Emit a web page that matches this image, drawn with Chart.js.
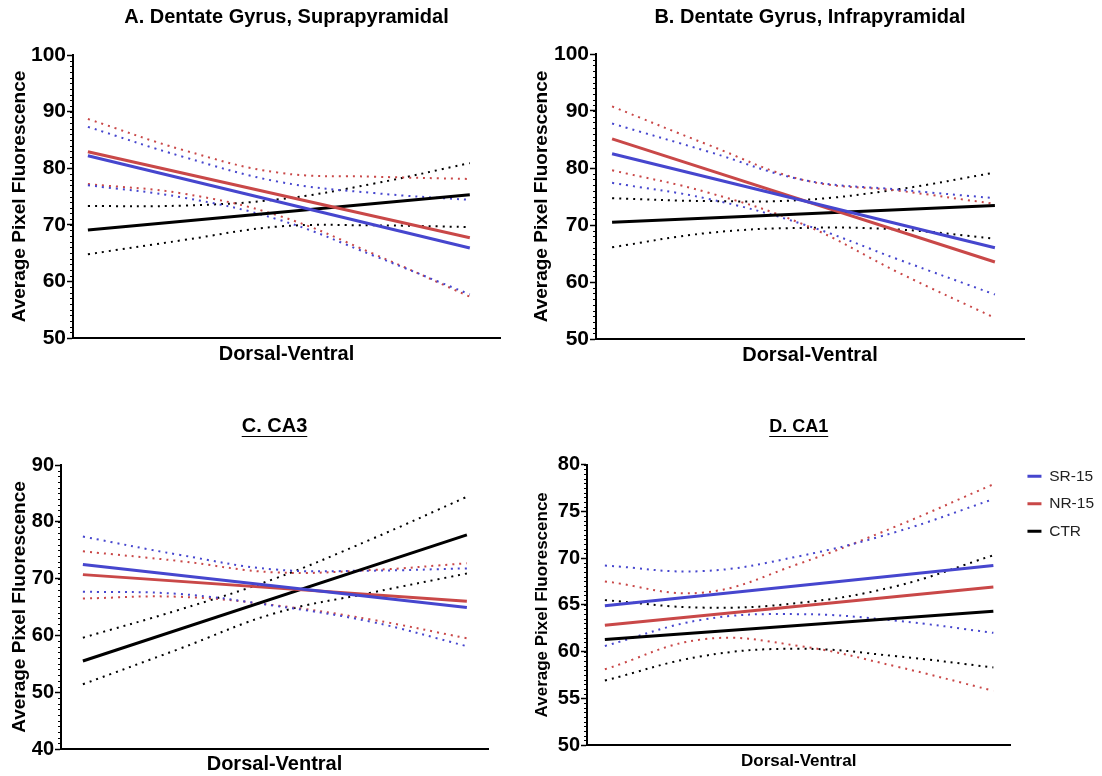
<!DOCTYPE html>
<html>
<head>
<meta charset="utf-8">
<script src="https://cdn.jsdelivr.net/npm/chart.js@4.4.1/dist/chart.umd.min.js"></script>
<style>
  html, body { margin: 0; padding: 0; background: #fff; overflow: hidden; }
  .panel { position: absolute; }
</style>
</head>
<body>
<div class="panel" style="left:0;top:0;width:520px;height:385px"><canvas id="chartA"></canvas></div>
<div class="panel" style="left:520px;top:0;width:582px;height:385px"><canvas id="chartB"></canvas></div>
<div class="panel" style="left:0;top:390px;width:520px;height:386px"><canvas id="chartC"></canvas></div>
<div class="panel" style="left:520px;top:390px;width:582px;height:386px"><canvas id="chartD"></canvas></div>
<script>
// dorsal -> ventral position (0 = dorsal end, 1 = ventral end)
const fitX = [0, 1];
const bandX = [0, 0.25, 0.5, 0.75, 1];
const groups = ['SR-15', 'NR-15', 'CTR'];

// A. Dentate Gyrus, Suprapyramidal
const aSRFit = [82.2, 65.9];
const aNRFit = [82.9, 67.7];
const aCTRFit = [69.1, 75.3];
const aSRUpper = [87.3, 82.0, 77.6, 75.6, 74.4];
const aSRLower = [77.0, 74.8, 70.9, 64.5, 57.7];
const aNRUpper = [88.7, 83.2, 79.2, 78.5, 78.1];
const aNRLower = [77.2, 75.5, 71.6, 64.8, 57.3];
const aCTRUpper = [73.3, 73.4, 74.5, 77.3, 80.9];
const aCTRLower = [64.8, 67.3, 69.7, 69.9, 69.6];

// B. Dentate Gyrus, Infrapyramidal
const bSRFit = [82.5, 66.0];
const bNRFit = [85.1, 63.5];
const bCTRFit = [70.5, 73.4];
const bSRUpper = [87.8, 82.9, 77.9, 76.2, 74.7];
const bSRLower = [77.4, 74.6, 70.1, 63.9, 57.8];
const bNRUpper = [90.8, 84.1, 77.9, 76.0, 73.7];
const bNRLower = [79.6, 75.7, 70.1, 61.6, 53.7];
const bCTRUpper = [74.7, 74.2, 74.4, 76.3, 79.2];
const bCTRLower = [66.1, 68.6, 69.5, 69.2, 67.6];

// C. CA3
const cSRFit = [72.5, 64.9];
const cNRFit = [70.7, 66.0];
const cCTRFit = [55.5, 77.7];
const cSRUpper = [77.4, 74.2, 71.6, 71.4, 71.8];
const cSRLower = [67.7, 67.3, 65.2, 62.4, 58.1];
const cNRUpper = [74.8, 73.1, 71.1, 71.5, 72.7];
const cNRLower = [66.5, 66.8, 65.3, 62.8, 59.5];
const cCTRUpper = [59.6, 64.5, 70.0, 76.9, 84.4];
const cCTRLower = [51.4, 57.6, 63.9, 67.5, 70.9];

// D. CA1
const dSRFit = [64.9, 69.2];
const dNRFit = [62.8, 66.9];
const dCTRFit = [61.3, 64.3];
const dSRUpper = [69.2, 68.6, 70.2, 72.8, 76.3];
const dSRLower = [60.6, 63.4, 64.0, 63.3, 62.0];
const dNRUpper = [67.5, 66.3, 69.4, 73.4, 77.9];
const dNRLower = [58.1, 61.3, 60.6, 58.4, 55.8];
const dCTRUpper = [65.5, 64.7, 65.2, 67.0, 70.3];
const dCTRLower = [56.9, 59.5, 60.3, 59.5, 58.3];

const colors = ['#4646ce', '#c94848', '#000000'];
const FONT = "'Liberation Sans', Arial, sans-serif";

function pts(xs, ys) {
    return ys.map((y, i) => ({ x: xs[i], y: y }));
}

function buildDatasets(fits, bands) {
    const sets = [];
    fits.forEach((f, i) => {
        sets.push({
            label: groups[i],
            data: pts(fitX, f),
            borderColor: colors[i],
            backgroundColor: colors[i],
            borderWidth: 3,
            pointRadius: 0,
            order: 0
        });
    });
    bands.forEach((b, i) => {
        [b[0], b[1]].forEach(vals => {
            sets.push({
                label: groups[i] + ' CI',
                ci: true,
                data: pts(bandX, vals),
                borderColor: colors[i],
                borderWidth: 2,
                borderDash: [2, 5],
                tension: 0.4,
                pointRadius: 0,
                order: 1
            });
        });
    });
    return sets;
}

// small ticks between the labelled ones on the y axis
const minorTicks = {
    id: 'minorTicks',
    afterDraw(chart, args, opts) {
        const y = chart.scales.y;
        const ctx = chart.ctx;
        ctx.save();
        ctx.strokeStyle = '#000';
        ctx.lineWidth = 1;
        const n = Math.round((y.max - y.min) / opts.step);
        for (let k = 0; k <= n; k++) {
            const py = Math.round(y.getPixelForValue(y.min + k * opts.step)) + 0.5;
            ctx.beginPath();
            ctx.moveTo(y.right - 3, py);
            ctx.lineTo(y.right, py);
            ctx.stroke();
        }
        ctx.restore();
    }
};

const titleUnderline = {
    id: 'titleUnderline',
    afterDraw(chart, args, opts) {
        if (!opts.display) return;
        const t = chart.titleBlock;
        const o = t.options;
        const ctx = chart.ctx;
        ctx.save();
        ctx.font = 'bold ' + o.font.size + 'px ' + FONT;
        const w = ctx.measureText(o.text).width;
        const cx = (t.left + t.right) / 2;
        const y = Math.round(t.top + o.padding.top + o.font.size * 0.6 + o.font.size * 0.5) + 0.5;
        ctx.strokeStyle = '#000';
        ctx.lineWidth = 1.2;
        ctx.beginPath();
        ctx.moveTo(cx - w / 2, y);
        ctx.lineTo(cx + w / 2, y);
        ctx.stroke();
        ctx.restore();
    }
};

const legendNudge = {
    id: 'legendNudge',
    beforeDraw(chart, args, opts) {
        const lg = chart.legend;
        if (!lg || !opts.enabled) return;
        const w = lg.width, h = lg.height;
        lg.left = chart.chartArea.right + opts.dx;
        lg.right = lg.left + w;
        lg.top = chart.chartArea.top + opts.dy;
        lg.bottom = lg.top + h;
    }
};

function makePanel(id, p) {
    const ctx = document.getElementById(id).getContext('2d');
    new Chart(ctx, {
        type: 'line',
        data: { datasets: buildDatasets(p.fits, p.bands) },
        plugins: [minorTicks, titleUnderline, legendNudge],
        options: {
            responsive: true,
            maintainAspectRatio: false,
            animation: false,
            layout: { padding: { left: 0, right: p.padRight, top: 0, bottom: 0 } },
            plugins: {
                title: {
                    display: true,
                    text: p.title,
                    fullSize: false,
                    color: '#000',
                    font: { family: FONT, size: p.titleSize, weight: 'bold', lineHeight: 1.2 },
                    padding: { top: p.titleTop, bottom: p.titleBottom }
                },
                legend: {
                    display: !!p.legend,
                    position: 'right',
                    align: 'start',
                    labels: {
                        boxWidth: 14,
                        boxHeight: 3,
                        padding: 12,
                        color: '#222',
                        font: { family: FONT, size: 15.5 },
                        generateLabels: chart => Chart.defaults.plugins.legend.labels.generateLabels(chart)
                            .filter(item => !chart.data.datasets[item.datasetIndex].ci)
                            .map(item => Object.assign(item, { lineWidth: 0 }))
                    }
                },
                tooltip: { enabled: false },
                minorTicks: { step: p.minor },
                titleUnderline: { display: !!p.underline },
                legendNudge: { enabled: !!p.legend, dx: 5, dy: -8 }
            },
            scales: {
                x: {
                    type: 'linear',
                    min: p.xMin,
                    max: p.xMax,
                    grid: { display: false },
                    border: { display: true, color: '#000', width: 2 },
                    ticks: { display: false },
                    title: {
                        display: true,
                        text: 'Dorsal-Ventral',
                        color: '#000',
                        font: { family: FONT, size: p.xTitleSize, weight: 'bold', lineHeight: 1.2 },
                        padding: { top: 0, bottom: p.xTitleBottom }
                    },
                    afterFit: s => { s.height = p.xHeight; }
                },
                y: {
                    min: p.yMin,
                    max: p.yMax,
                    grid: { drawOnChartArea: false, color: '#000', tickLength: 6, tickWidth: 1.5 },
                    border: { display: true, color: '#000', width: 2 },
                    ticks: {
                        stepSize: p.yStep,
                        padding: 1,
                        color: '#000',
                        font: { family: FONT, size: p.tickSize, weight: 'bold' }
                    },
                    title: {
                        display: true,
                        text: 'Average Pixel Fluorescence',
                        color: '#000',
                        font: { family: FONT, size: p.yTitleSize, weight: 'bold', lineHeight: 1.2 },
                        padding: { top: p.yTitleTop, bottom: 0 }
                    },
                    afterFit: s => { s.width = p.yWidth; }
                }
            }
        }
    });
}

document.addEventListener('DOMContentLoaded', function () {
    makePanel('chartA', {
        title: 'A. Dentate Gyrus, Suprapyramidal', titleSize: 20, titleTop: 5, titleBottom: 26,
        fits: [aSRFit, aNRFit, aCTRFit],
        bands: [[aSRUpper, aSRLower], [aNRUpper, aNRLower], [aCTRUpper, aCTRLower]],
        yMin: 50, yMax: 100, yStep: 10, minor: 1, tickSize: 21,
        yTitleSize: 19, yTitleTop: 8, yWidth: 73, padRight: 20,
        xMin: -0.039, xMax: 1.079, xTitleSize: 20, xTitleBottom: 19, xHeight: 47
    });
    makePanel('chartB', {
        title: 'B. Dentate Gyrus, Infrapyramidal', titleSize: 20, titleTop: 5, titleBottom: 25,
        fits: [bSRFit, bNRFit, bCTRFit],
        bands: [[bSRUpper, bSRLower], [bNRUpper, bNRLower], [bCTRUpper, bCTRLower]],
        yMin: 50, yMax: 100, yStep: 10, minor: 1, tickSize: 21,
        yTitleSize: 19, yTitleTop: 10, yWidth: 76, padRight: 78,
        xMin: -0.042, xMax: 1.076, xTitleSize: 20, xTitleBottom: 18, xHeight: 46
    });
    makePanel('chartC', {
        title: 'C. CA3', titleSize: 20, titleTop: 24, titleBottom: 27, underline: true,
        fits: [cSRFit, cNRFit, cCTRFit],
        bands: [[cSRUpper, cSRLower], [cNRUpper, cNRLower], [cCTRUpper, cCTRLower]],
        yMin: 40, yMax: 90, yStep: 10, minor: 1, tickSize: 20,
        yTitleSize: 19, yTitleTop: 8, yWidth: 61, padRight: 32,
        xMin: -0.057, xMax: 1.055, xTitleSize: 20, xTitleBottom: 0, xHeight: 27
    });
    makePanel('chartD', {
        title: 'D. CA1', titleSize: 18, titleTop: 26, titleBottom: 27, underline: true, legend: true,
        fits: [dSRFit, dNRFit, dCTRFit],
        bands: [[dSRUpper, dSRLower], [dNRUpper, dNRLower], [dCTRUpper, dCTRLower]],
        yMin: 50, yMax: 80, yStep: 5, minor: 0.5, tickSize: 20,
        yTitleSize: 17, yTitleTop: 12, yWidth: 67, padRight: 3,
        xMin: -0.046, xMax: 1.044, xTitleSize: 17, xTitleBottom: 4, xHeight: 31
    });
});
</script>
</body>
</html>
